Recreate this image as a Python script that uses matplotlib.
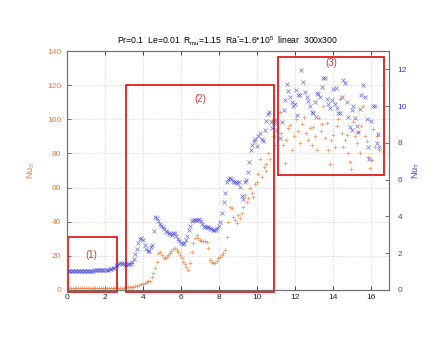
import matplotlib
matplotlib.use("Agg")
import matplotlib.pyplot as plt
from matplotlib.patches import Rectangle

plt.rcParams['font.family'] = ['Liberation Sans', 'DejaVu Sans']
plt.rcParams['mathtext.fontset'] = 'custom'
plt.rcParams['mathtext.rm'] = 'Liberation Sans'
plt.rcParams['mathtext.it'] = 'Liberation Sans'

# ---- data: Nu_S (orange '+', left axis) ----
t_s = [0.0, 0.1, 0.2, 0.3, 0.4, 0.5, 0.6, 0.7, 0.8, 0.9, 1.0, 1.1, 1.2, 1.3, 1.4,
       1.5, 1.6, 1.7, 1.8, 1.9, 2.0, 2.1, 2.2, 2.3, 2.4, 2.5, 2.6, 2.7, 2.8, 2.9,
       3.0, 3.1, 3.2, 3.3, 3.4, 3.5, 3.6, 3.7, 3.8, 3.9, 4.0, 4.1, 4.2, 4.28, 4.37,
       4.45, 4.54, 4.63, 4.72, 4.81, 4.90, 5.00, 5.08, 5.16, 5.25, 5.34, 5.42, 5.50,
       5.58, 5.68, 5.77, 5.86, 5.94, 6.03, 6.12, 6.20, 6.28, 6.38, 6.47, 6.56, 6.65,
       6.74, 6.82, 6.91, 7.00, 7.08, 7.17, 7.26, 7.35, 7.44, 7.53, 7.62, 7.70, 7.79,
       7.88, 7.96, 8.05, 8.14, 8.23, 8.32, 8.40, 8.49, 8.58, 8.67, 8.75, 8.84, 8.93,
       9.00, 9.10, 9.19, 9.28, 9.37, 9.45, 9.54, 9.63, 9.72, 9.80, 9.90, 9.98, 10.07,
       10.16, 10.25, 10.35, 10.45, 10.50, 10.60, 10.68, 10.77, 10.85, 10.95, 11.03,
       11.20, 11.28, 11.37, 11.45, 11.55, 11.65, 11.74, 11.85, 11.95, 12.05, 12.15,
       12.25, 12.35, 12.50, 12.60, 12.70, 12.80, 12.88, 12.96, 13.05, 13.15, 13.25,
       13.35, 13.44, 13.49, 13.58, 13.67, 13.75, 13.84, 13.92, 14.00, 14.10, 14.20,
       14.28, 14.37, 14.45, 14.54, 14.63, 14.72, 14.80, 14.90, 14.95, 15.07, 15.15,
       15.25, 15.33, 15.42, 15.50, 15.60, 15.68, 15.77, 15.86, 15.95, 16.05, 16.12,
       16.20, 16.30, 16.40]
nu_s = [1.0, 1.0, 1.0, 1.0, 1.0, 1.0, 1.0, 1.1, 1.1, 1.1, 1.1, 1.1, 1.1, 1.1, 1.2,
        1.2, 1.2, 1.2, 1.2, 1.2, 1.3, 1.3, 1.3, 1.3, 1.3, 1.3, 1.4, 1.4, 1.4, 1.4,
        1.4, 1.5, 1.5, 1.6, 1.8, 2.0, 2.3, 2.6, 3.0, 3.3, 3.6, 4.0, 4.6, 5.5, 5.0,
        7.5, 9.8, 13.0, 16.6, 21.5, 22.0, 20.5, 19.0, 18.5, 19.5, 20.5, 21.5, 22.8,
        23.8, 24.4, 23.5, 22.5, 20.5, 18.5, 16.6, 15.0, 13.5, 11.7, 16.0, 22.5, 27.5,
        30.5, 32.2, 30.5, 29.0, 28.5, 28.8, 28.5, 28.3, 24.4, 17.6, 16.5, 16.0, 15.6,
        17.0, 18.5, 19.5, 20.5, 21.5, 23.4, 31.2, 40.0, 48.8, 47.8, 43.0, 41.0, 39.0,
        44.0, 42.0, 45.0, 48.8, 55.6, 51.7, 54.0, 59.6, 57.0, 54.7, 62.0, 63.5, 68.0,
        77.0, 66.0, 72.0, 69.5, 74.0, 80.0, 77.0, 99.6, 90.0, 85.0, 98.0,
        104.5, 92.0, 85.0, 74.4, 88.0, 95.0, 96.7, 82.0, 90.0, 100.0, 93.0,
        86.0, 97.0, 101.5, 92.0, 88.0, 95.0, 85.0, 95.7, 90.0, 82.0, 101.0,
        93.0, 97.0, 108.0, 89.0, 97.6, 82.0, 74.0, 88.0, 90.8, 84.0, 96.0,
        100.0, 112.0, 92.0, 84.0, 88.0, 90.8, 80.0, 75.0, 71.0, 98.6, 90.0,
        86.0, 92.7, 80.0, 96.0, 108.0, 90.0, 87.0, 78.0, 71.3, 76.0, 94.6,
        84.0, 90.0, 82.0]

# ---- data: Nu_T (blue 'x', right axis) ----
t_t = [0.00, 0.08, 0.16, 0.24, 0.32, 0.40, 0.48, 0.56, 0.64, 0.72, 0.80, 0.88, 0.96,
       1.04, 1.12, 1.20, 1.28, 1.36, 1.44, 1.52, 1.60, 1.68, 1.76, 1.84, 1.92, 2.00,
       2.08, 2.16, 2.24, 2.32, 2.40, 2.48, 2.56, 2.64, 2.72, 2.80, 2.88, 2.96, 3.04,
       3.12, 3.20, 3.28, 3.36, 3.44, 3.52, 3.60, 3.68, 3.76, 3.84, 3.92, 4.00, 4.08,
       4.16, 4.24, 4.32, 4.40, 4.48, 4.56, 4.64, 4.72, 4.80, 4.88, 4.96, 5.04, 5.12,
       5.20, 5.28, 5.36, 5.44, 5.52, 5.60, 5.68, 5.76, 5.84, 5.92, 6.00, 6.08, 6.16,
       6.24, 6.32, 6.40, 6.48, 6.56, 6.64, 6.72, 6.80, 6.88, 6.96, 7.04, 7.12, 7.20,
       7.28, 7.36, 7.44, 7.52, 7.60, 7.68, 7.76, 7.84, 7.92, 8.00, 8.08, 8.16, 8.24,
       8.32, 8.40, 8.48, 8.56, 8.64, 8.72, 8.80, 8.88, 8.96, 9.04, 9.12, 9.20, 9.28,
       9.36, 9.44, 9.52, 9.60, 9.68, 9.76, 9.84, 9.92, 10.00, 10.08, 10.16, 10.24,
       10.32, 10.40, 10.48, 10.56, 10.64, 10.72, 10.80, 10.88, 10.96, 11.04,
       11.20, 11.30, 11.40, 11.48, 11.56, 11.65, 11.74, 11.82, 11.90, 11.99, 12.05,
       12.09, 12.18, 12.26, 12.30, 12.44, 12.52, 12.61, 12.70, 12.80, 12.88, 12.96,
       13.05, 13.10, 13.15, 13.23, 13.30, 13.40, 13.49, 13.58, 13.67, 13.76, 13.84,
       13.93, 14.00, 14.10, 14.15, 14.20, 14.28, 14.37, 14.45, 14.54, 14.63, 14.72,
       14.80, 14.90, 14.98, 15.00, 15.07, 15.15, 15.24, 15.33, 15.40, 15.50, 15.60,
       15.68, 15.77, 15.86, 15.92, 16.02, 16.12, 16.20, 16.30, 16.35, 16.40]
nu_t = [1.02, 1.02, 1.02, 1.03, 1.03, 1.03, 1.03, 1.04, 1.04, 1.04, 1.04, 1.05, 1.05,
        1.05, 1.05, 1.06, 1.06, 1.06, 1.07, 1.07, 1.07, 1.08, 1.08, 1.09, 1.09, 1.10,
        1.10, 1.11, 1.12, 1.14, 1.17, 1.22, 1.28, 1.36, 1.43, 1.48, 1.48, 1.44, 1.40,
        1.38, 1.39, 1.41, 1.44, 1.52, 1.70, 1.95, 2.25, 2.55, 2.76, 2.85, 2.70, 2.45,
        2.25, 2.10, 2.12, 2.35, 2.45, 3.20, 3.95, 3.90, 3.75, 3.60, 3.48, 3.40, 3.30,
        3.22, 3.15, 3.10, 3.05, 3.00, 3.08, 3.10, 2.95, 2.80, 2.65, 2.55, 2.50, 2.55,
        2.70, 2.95, 3.25, 3.50, 3.75, 3.80, 3.80, 3.82, 3.80, 3.85, 3.75, 3.60, 3.50,
        3.45, 3.45, 3.40, 3.35, 3.30, 3.25, 3.25, 3.28, 3.35, 3.50, 3.70, 4.20, 4.80,
        5.30, 5.90, 6.05, 6.10, 6.05, 5.95, 5.90, 5.85, 5.80, 5.85, 5.60, 5.10, 4.95,
        5.85, 6.00, 6.40, 6.95, 7.60, 7.90, 8.10, 8.20, 7.85, 8.40, 8.55, 8.20,
        8.10, 8.70, 9.20, 9.60, 9.70, 9.15, 8.80, 9.10, 9.25, 8.70,
        8.26, 9.15, 9.80, 10.33, 11.23, 10.80, 10.50, 10.20, 10.00, 10.12, 10.90,
        9.52, 10.60, 10.58, 11.97, 11.33, 10.75, 10.49, 10.30, 10.00, 9.70, 9.61,
        10.20, 9.40, 10.70, 10.68, 10.50, 11.05, 11.51, 11.51, 10.40, 10.10, 9.90,
        10.31, 10.96, 10.12, 11.00, 9.90, 9.61, 9.61, 10.50, 11.42, 11.24, 10.20,
        9.40, 8.89, 8.70, 9.80, 10.03, 9.38, 8.90, 8.61, 9.84, 10.60, 11.14,
        10.49, 9.30, 7.80, 7.15, 9.20, 9.99, 10.03, 7.99, 8.50, 7.80]

x_ticks = [0, 2, 4, 6, 8, 10, 12, 14, 16]
left_ticks = [0, 20, 40, 60, 80, 100, 120, 140]
right_ticks = [0, 2, 4, 6, 8, 10, 12]

# regions: (x0, y0, x1, y1) in left-axis data units, label, label position
regions = [((0.05, -1.2, 2.63, 31), "(1)", (1.3, 20.5)),
           ((3.1, -1.2, 10.9, 120), "(2)", (7.0, 112)),
           ((11.1, 67.5, 16.7, 136.5), "(3)", (13.9, 133))]

orange = '#ec7a36'
blue = '#3c3cdc'
red = '#e01c1c'

fig = plt.figure(figsize=(4.36, 3.37), dpi=100)
ax = fig.add_axes([67/436, 1-290/337, (389-67)/436, (290-51)/337])
ax2 = ax.twinx()

ax.plot(t_s, nu_s, linestyle='none', marker='+', ms=3.3, mew=0.55, color=orange, alpha=0.75)
ax2.plot(t_t, nu_t, linestyle='none', marker='x', ms=2.8, mew=0.55, color=blue, alpha=0.7)

ax.set_xlim(0, 16.95)
ax.set_ylim(0, 140)
ax2.set_ylim(0, 13)
ax.set_xticks(x_ticks)
ax.set_yticks(left_ticks)
ax2.set_yticks(right_ticks)

ax.grid(True, linestyle=(0, (2, 2)), color='#d0d0d0', linewidth=0.5)
for a in (ax, ax2):
    for s in a.spines.values():
        s.set_color('#707070')
        s.set_linewidth(0.8)
ax.tick_params(axis='x', direction='in', top=True, length=3, width=0.6,
               labelsize=6, colors='#222222', pad=3)
ax.tick_params(axis='y', direction='in', length=3, width=0.6, labelsize=6,
               labelcolor=orange, color='#555555', pad=4)
ax2.tick_params(axis='y', direction='in', length=3, width=0.6, labelsize=6,
                labelcolor=blue, color='#555555', pad=6)

ax.set_ylabel('Nu$_S$', color=orange, fontsize=6.5, labelpad=7)
ax2.set_ylabel('Nu$_T$', color=blue, fontsize=6.5, labelpad=3)

ax.set_title(r"Pr=0.1  Le=0.01  R$_{\rm mu}$=1.15  Ra$^{*}$=1.6*10$^{5}$  linear  300x300",
             fontsize=6.2, pad=5)

for (x0, y0, x1, y1), lab, (lx, ly) in regions:
    ax.add_patch(Rectangle((x0, y0), x1 - x0, y1 - y0, fill=False, edgecolor=red,
                           linewidth=1.3, clip_on=False, zorder=5))
    ax.text(lx, ly, lab, color='#d03a3a', fontsize=7, ha='center', va='center')

fig.savefig('out.png', dpi=100)
